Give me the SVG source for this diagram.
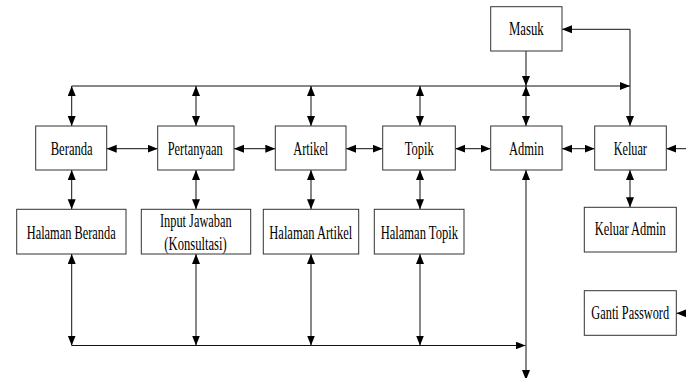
<svg xmlns="http://www.w3.org/2000/svg" width="686" height="378" viewBox="0 0 686 378">
<defs>
<marker id="ah" markerUnits="userSpaceOnUse" markerWidth="11" markerHeight="9" refX="10" refY="4" orient="auto-start-reverse">
<path d="M0,0 L10,4 L0,8 z" fill="#000"/>
</marker>
<style>
.box{fill:#fff;stroke:#333;stroke-width:1}
.t{font-family:"Liberation Serif","Times New Roman",serif;font-size:19px;fill:#000;text-anchor:middle}
.c{fill:none;stroke:#111;stroke-width:1}
.b{marker-start:url(#ah);marker-end:url(#ah)}
.e{marker-end:url(#ah)}
</style>
</defs>
<rect width="686" height="378" fill="#fff"/>
<g id="connectors">
<path class="c e" d="M71.7,86 H630"/>
<path class="c b" d="M562,29.3 H630 V126"/>
<path class="c e" d="M526,51 V86"/>
<path class="c b" d="M71.7,86 V126"/>
<path class="c b" d="M196,86 V126"/>
<path class="c b" d="M311,86 V126"/>
<path class="c b" d="M420,86 V126"/>
<path class="c b" d="M526,86 V126"/>
<path class="c b" d="M106.7,148.7 H157.7"/>
<path class="c b" d="M234,148.7 H275.3"/>
<path class="c b" d="M346,148.7 H382.7"/>
<path class="c b" d="M455.3,148.7 H490.7"/>
<path class="c b" d="M562,148.7 H594.7"/>
<path class="c e" d="M686,148.7 H666.3"/>
<path class="c b" d="M71.7,170 V209.3"/>
<path class="c b" d="M196,170 V209.3"/>
<path class="c b" d="M311,170 V209.3"/>
<path class="c b" d="M420,170 V209.3"/>
<path class="c b" d="M630,170 V207.3"/>
<path class="c b" d="M71.7,254 V345.5"/>
<path class="c b" d="M196,254 V345.5"/>
<path class="c b" d="M311,254 V345.5"/>
<path class="c b" d="M420,254 V345.5"/>
<path class="c e" d="M71.7,345.5 H525.5"/>
<path class="c b" d="M526,170 V380"/>
<path class="c e" d="M686,313.3 H676.3"/>
</g>
<g id="masuk"><rect class="box" x="490.7" y="6.7" width="71.3" height="44.3"/><text class="t" transform="translate(526.3,35) scale(0.65,1)" textLength="53.4" lengthAdjust="spacingAndGlyphs">Masuk</text></g>
<g id="beranda"><rect class="box" x="35.7" y="126" width="71" height="44"/><text class="t" transform="translate(71.7,155) scale(0.65,1)" textLength="64.6" lengthAdjust="spacingAndGlyphs">Beranda</text></g>
<g id="pertanyaan"><rect class="box" x="157.7" y="126" width="76.3" height="44"/><text class="t" transform="translate(195.2,155) scale(0.65,1)" textLength="84.6" lengthAdjust="spacingAndGlyphs">Pertanyaan</text></g>
<g id="artikel"><rect class="box" x="275.3" y="126" width="70.7" height="44"/><text class="t" transform="translate(310.8,155) scale(0.65,1)" textLength="53.8" lengthAdjust="spacingAndGlyphs">Artikel</text></g>
<g id="topik"><rect class="box" x="382.7" y="126" width="72.6" height="44"/><text class="t" transform="translate(419.2,155) scale(0.65,1)" textLength="44.6" lengthAdjust="spacingAndGlyphs">Topik</text></g>
<g id="admin"><rect class="box" x="490.7" y="126" width="71.3" height="44"/><text class="t" transform="translate(526.3,155) scale(0.65,1)" textLength="53.4" lengthAdjust="spacingAndGlyphs">Admin</text></g>
<g id="keluar"><rect class="box" x="594.7" y="126" width="71.6" height="44"/><text class="t" transform="translate(630.3,155) scale(0.65,1)" textLength="51.2" lengthAdjust="spacingAndGlyphs">Keluar</text></g>
<g id="halaman-beranda"><rect class="box" x="16.7" y="209.3" width="109.3" height="44.7"/><text class="t" transform="translate(71.2,239.3) scale(0.65,1)" textLength="136.9" lengthAdjust="spacingAndGlyphs">Halaman Beranda</text></g>
<g id="input-jawaban"><rect class="box" x="141.3" y="209.3" width="109.4" height="44.7"/><text class="t" transform="translate(195.8,226.5) scale(0.65,1)" textLength="110.3" lengthAdjust="spacingAndGlyphs">Input Jawaban</text><text class="t" transform="translate(195.5,249.5) scale(0.65,1)" textLength="95.8" lengthAdjust="spacingAndGlyphs">(Konsultasi)</text></g>
<g id="halaman-artikel"><rect class="box" x="263.3" y="209.3" width="95.4" height="44.7"/><text class="t" transform="translate(310.8,239.3) scale(0.65,1)" textLength="127.7" lengthAdjust="spacingAndGlyphs">Halaman Artikel</text></g>
<g id="halaman-topik"><rect class="box" x="374.3" y="209.3" width="89.7" height="44.7"/><text class="t" transform="translate(419.3,239.3) scale(0.65,1)" textLength="118.9" lengthAdjust="spacingAndGlyphs">Halaman Topik</text></g>
<g id="keluar-admin"><rect class="box" x="584.3" y="207.3" width="92" height="44.7"/><text class="t" transform="translate(630.2,235) scale(0.65,1)" textLength="109.2" lengthAdjust="spacingAndGlyphs">Keluar Admin</text></g>
<g id="ganti-password"><rect class="box" x="584.3" y="290.7" width="92" height="44.6"/><text class="t" transform="translate(630.2,319.3) scale(0.65,1)" textLength="119.5" lengthAdjust="spacingAndGlyphs">Ganti Password</text></g>
</svg>
